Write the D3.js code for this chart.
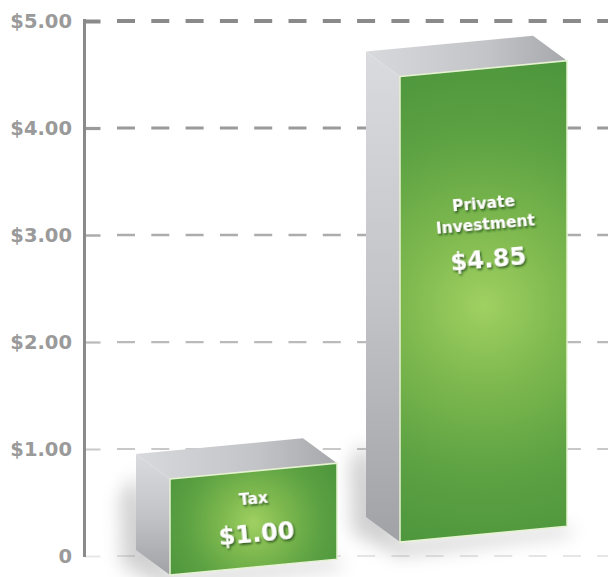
<!DOCTYPE html>
<html>
<head>
<meta charset="utf-8">
<script src="https://cdn.jsdelivr.net/npm/d3@7"></script>
<style>
  html, body { margin: 0; padding: 0; background: #ffffff; }
  svg { display: block; }
</style>
</head>
<body>
<svg id="chart" width="608" height="577"></svg>
<script>
// ---- data ----
const categories = ["Tax", "Private Investment"];
const nameLines = [["Tax"], ["Private", "Investment"]];
const values = [1.00, 4.85];
const valueLabels = ["$1.00", "$4.85"];
const tickValues = [0, 1, 2, 3, 4, 5];
const tickLabels = ["0", "$1.00", "$2.00", "$3.00", "$4.00", "$5.00"];

// ---- layout ----
const W = 608, H = 577;
const axisX = 84.5;
const svg = d3.select("#chart");
const defs = svg.append("defs");

const y = d3.scaleLinear().domain([0, 5]).range([556, 21]);

// gridlines fade from dark at the top to very light at zero
const gridColor = d3.scaleLinear().domain([0, 1, 3, 4, 5])
  .range(["#e6e6e6", "#c8c8c8", "#acacac", "#9a9a9a", "#8a8a8a"]);
const gridWidth = d3.scaleLinear().domain([0, 1, 3, 4, 5]).range([1.8, 2, 2.5, 3.2, 4]);

// dashed gridlines
svg.append("g").attr("class", "grid")
  .selectAll("line").data(tickValues).join("line")
  .attr("x1", 117).attr("x2", W)
  .attr("y1", d => y(d)).attr("y2", d => y(d))
  .attr("stroke", d => gridColor(d))
  .attr("stroke-width", d => gridWidth(d))
  .attr("stroke-dasharray", "18 16.3");

// y axis with inward ticks
const axis = d3.axisLeft(y)
  .tickValues(tickValues)
  .tickFormat(d => tickLabels[tickValues.indexOf(d)])
  .tickSizeInner(-16)
  .tickSizeOuter(0)
  .tickPadding(12.5);

const gAxis = svg.append("g").attr("transform", `translate(${axisX},0)`).call(axis);
gAxis.select(".domain").remove();
gAxis.selectAll(".tick line")
  .attr("x1", 0)
  .attr("stroke", d => gridColor(d))
  .attr("stroke-width", d => gridWidth(d));
gAxis.selectAll(".tick text")
  .attr("fill", "#9a9a9a")
  .attr("font-family", "'DejaVu Sans', sans-serif")
  .attr("font-weight", "bold")
  .attr("font-size", 19.5);
gAxis.append("line")
  .attr("x1", 0).attr("x2", 0)
  .attr("y1", y(5) - 2).attr("y2", y(0) + 1)
  .attr("stroke", "#8a8a8a").attr("stroke-width", 3);

// ---- 3D boxes ----
const x = d3.scaleBand().domain(categories).range([170, 567]).paddingInner(0.274).paddingOuter(0);
const h = d3.scaleLinear().domain([0, 5]).range([0, 480]);
const skew = -0.095;                       // slope of receding horizontal edges
const depth = { dx: -34, dy: -25 };        // offset of the back face
const floor = { x0: 170, y0: 575, slope: -0.143 };
const bw = x.bandwidth();

const boxes = categories.map((c, i) => {
  const xl = x(c), xr = xl + bw;
  const yBL = floor.y0 + (xl - floor.x0) * floor.slope;
  const yBR = yBL + bw * skew;
  const hh = h(values[i]);
  return { i, c, xl, xr, yBL, yBR, yTL: yBL - hh, yTR: yBR - hh, hh };
});

// filters
const blur = defs.append("filter").attr("id", "soft")
  .attr("x", "-50%").attr("y", "-50%").attr("width", "200%").attr("height", "200%");
blur.append("feGaussianBlur").attr("stdDeviation", 9);

const ts = defs.append("filter").attr("id", "textShadow")
  .attr("x", "-30%").attr("y", "-30%").attr("width", "160%").attr("height", "160%");
ts.append("feDropShadow").attr("dx", 1.2).attr("dy", 1.8).attr("stdDeviation", 1.2)
  .attr("flood-color", "#16330c").attr("flood-opacity", 0.75);

// gradients
const sideGrad = defs.append("linearGradient").attr("id", "sideGrad")
  .attr("x1", 0).attr("y1", 0).attr("x2", 0).attr("y2", 1);
sideGrad.append("stop").attr("offset", 0).attr("stop-color", "#dadbde");
sideGrad.append("stop").attr("offset", 0.5).attr("stop-color", "#c3c4c7");
sideGrad.append("stop").attr("offset", 1).attr("stop-color", "#a0a2a6");

const topGrad = defs.append("linearGradient").attr("id", "topGrad")
  .attr("x1", 0).attr("y1", 0).attr("x2", 1).attr("y2", 0);
topGrad.append("stop").attr("offset", 0).attr("stop-color", "#d8d9dc");
topGrad.append("stop").attr("offset", 0.6).attr("stop-color", "#c3c4c7");
topGrad.append("stop").attr("offset", 1).attr("stop-color", "#a7a8ac");

boxes.forEach(b => {
  const g = defs.append("radialGradient").attr("id", "front" + b.i)
    .attr("gradientUnits", "userSpaceOnUse")
    .attr("cx", (b.xl + b.xr) / 2)
    .attr("cy", (b.yTL + b.yBR) / 2 + 4)
    .attr("r", 0.55 * Math.hypot(bw, b.hh));
  g.append("stop").attr("offset", 0).attr("stop-color", "#a0d062");
  g.append("stop").attr("offset", 0.3).attr("stop-color", "#7db84e");
  g.append("stop").attr("offset", 0.62).attr("stop-color", "#5da243");
  g.append("stop").attr("offset", 1).attr("stop-color", "#4a933b");
});

const pts = arr => arr.map(p => p.join(",")).join(" ");

// soft floor shadows
svg.append("g").attr("filter", "url(#soft)")
  .selectAll("polygon").data(boxes).join("polygon")
  .attr("points", b => pts([
    [b.xl + depth.dx - 16, b.yBL + depth.dy - 55],
    [b.xl + depth.dx, b.yBL + depth.dy - 75],
    [b.xl, b.yBL],
    [b.xr, b.yBR],
    [b.xr + 6, b.yBR + 8],
    [b.xl, b.yBL + 14],
    [b.xl + depth.dx - 14, b.yBL + depth.dy + 16]
  ]))
  .attr("fill", "#000").attr("opacity", 0.18);

const gBars = svg.append("g").attr("class", "bars")
  .selectAll("g").data(boxes).join("g");

gBars.append("polygon")
  .attr("points", b => pts([
    [b.xl + depth.dx, b.yTL + depth.dy], [b.xl, b.yTL],
    [b.xl, b.yBL], [b.xl + depth.dx, b.yBL + depth.dy]
  ]))
  .attr("fill", "url(#sideGrad)");

gBars.append("polygon")
  .attr("points", b => pts([
    [b.xl + depth.dx, b.yTL + depth.dy], [b.xr + depth.dx, b.yTR + depth.dy],
    [b.xr, b.yTR], [b.xl, b.yTL]
  ]))
  .attr("fill", "url(#topGrad)");

gBars.append("polygon")
  .attr("points", b => pts([[b.xl, b.yTL], [b.xr, b.yTR], [b.xr, b.yBR], [b.xl, b.yBL]]))
  .attr("fill", b => `url(#front${b.i})`)
  .attr("stroke", "#e6f3d2").attr("stroke-width", 1.5);

// labels on the front faces
const gLabels = gBars.append("g")
  .attr("transform", b => {
    const cx = (b.xl + b.xr) / 2;
    const topMid = b.yTL + (bw / 2) * skew;
    return `translate(${cx},${topMid + 0.29 * b.hh}) rotate(-5)`;
  })
  .attr("filter", "url(#textShadow)")
  .attr("fill", "#ffffff")
  .attr("font-family", "'DejaVu Sans', sans-serif")
  .attr("font-weight", "bold")
  .attr("text-anchor", "middle");

gLabels.each(function (b) {
  const g = d3.select(this);
  const lines = nameLines[b.i];
  lines.forEach((t, k) => {
    g.append("text").attr("y", k * 21).attr("dy", "0.35em")
      .attr("font-size", 15.5).text(t);
  });
  g.append("text").attr("y", (lines.length - 1) * 21 + 34).attr("dy", "0.36em")
    .attr("font-size", 24).text(valueLabels[b.i]);
});
</script>
</body>
</html>
